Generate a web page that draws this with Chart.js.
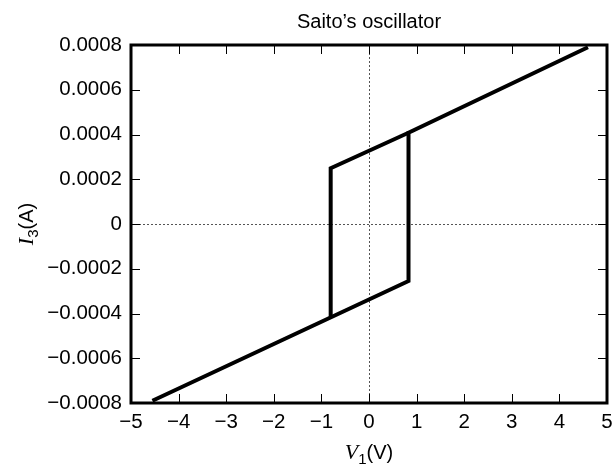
<!DOCTYPE html>
<html>
<head>
<meta charset="utf-8">
<script src="https://cdn.jsdelivr.net/npm/chart.js@4/dist/chart.umd.min.js"></script>
<style>
  html, body { margin: 0; padding: 0; background: #fff; overflow: hidden; }
  #wrap { width: 613px; height: 465px; }
</style>
</head>
<body>
<div id="wrap"><canvas id="chSaito"></canvas></div>
<script>
// outer branch of the I-V characteristic (lower line, jump, upper line)
var outerV = [-4.55, 0.83, 0.83, 4.6];
var outerI = [-0.00079, -0.000255, 0.000408, 0.00079];
// left jump and the short upper piece of the loop
var innerV = [-0.805, -0.805, 0.83];
var innerI = [-0.000414, 0.000249, 0.000408];

var xTicks = [-5, -4, -3, -2, -1, 0, 1, 2, 3, 4, 5];
var yTicks = [-0.0008, -0.0006, -0.0004, -0.0002, 0, 0.0002, 0.0004, 0.0006, 0.0008];

var sans = '"Liberation Sans", Arial, Helvetica, sans-serif';
var serif = '"Liberation Serif", "Times New Roman", serif';

function toPoints(xs, ys) {
  return xs.map(function (x, i) { return { x: x, y: ys[i] } });
}

function fmt(v, digits) {
  if (Math.abs(v) < 1e-12) return '0';
  var s = Math.abs(v).toFixed(digits);
  return (v < 0 ? '\u2212' : '') + s;
}

// draws a list of runs [text, font, dy] centred on (cx, cy)
function drawRuns(ctx, runs, cx, cy) {
  var total = 0;
  runs.forEach(function (r) { ctx.font = r[1]; total += ctx.measureText(r[0]).width });
  var x = cx - total / 2;
  ctx.textBaseline = 'alphabetic';
  ctx.textAlign = 'left';
  runs.forEach(function (r) {
    ctx.font = r[1];
    ctx.fillText(r[0], x, cy + (r[2] || 0));
    x += ctx.measureText(r[0]).width;
  });
}

// frame, inward ticks, dotted zero lines and titles
var framePlugin = {
  id: 'frame',
  beforeDatasetsDraw: function (chart) {
    var ctx = chart.ctx, a = chart.chartArea;
    var xs = chart.scales.x, ys = chart.scales.y;
    ctx.save();
    ctx.strokeStyle = '#555';
    ctx.lineWidth = 1;
    ctx.setLineDash([2, 2]);
    var x0 = Math.round(xs.getPixelForValue(0)) + 0.5;
    var y0 = Math.round(ys.getPixelForValue(0)) + 0.5;
    ctx.beginPath();
    ctx.moveTo(x0, a.top); ctx.lineTo(x0, a.bottom);
    ctx.moveTo(a.left, y0); ctx.lineTo(a.right, y0);
    ctx.stroke();
    ctx.restore();
  },
  afterDraw: function (chart) {
    var ctx = chart.ctx, a = chart.chartArea;
    var xs = chart.scales.x, ys = chart.scales.y;
    var tl = 9;
    ctx.save();
    ctx.strokeStyle = '#000';
    ctx.lineWidth = 1;
    ctx.beginPath();
    xTicks.forEach(function (v) {
      var px = Math.round(xs.getPixelForValue(v)) + 0.5;
      ctx.moveTo(px, a.bottom); ctx.lineTo(px, a.bottom - tl);
      ctx.moveTo(px, a.top); ctx.lineTo(px, a.top + tl);
    });
    yTicks.forEach(function (v) {
      var py = Math.round(ys.getPixelForValue(v)) + 0.5;
      ctx.moveTo(a.left, py); ctx.lineTo(a.left + tl, py);
      ctx.moveTo(a.right, py); ctx.lineTo(a.right - tl, py);
    });
    ctx.stroke();

    ctx.lineWidth = 3;
    ctx.strokeRect(a.left, a.top, a.right - a.left, a.bottom - a.top);

    ctx.fillStyle = '#000';
    var cx = (a.left + a.right) / 2;
    drawRuns(ctx, [['Saito\u2019s oscillator', '20px ' + sans]], cx, 28);

    drawRuns(ctx, [
      ['V', 'italic 22px ' + serif],
      ['1', '15px ' + sans, 5],
      ['(V)', '20px ' + sans]
    ], cx, 459);

    ctx.translate(33, (a.top + a.bottom) / 2);
    ctx.rotate(-Math.PI / 2);
    drawRuns(ctx, [
      ['I', 'italic 22px ' + serif],
      ['3', '15px ' + sans, 5],
      ['(A)', '20px ' + sans]
    ], 0, 0);
    ctx.restore();
  }
};

var lineStyle = {
  showLine: true,
  borderColor: '#000',
  backgroundColor: '#000',
  borderWidth: 4,
  pointRadius: 0,
  fill: false,
  tension: 0
};

new Chart(document.getElementById('chSaito'), {
  type: 'scatter',
  data: {
    datasets: [
      Object.assign({ data: toPoints(outerV, outerI) }, lineStyle),
      Object.assign({ data: toPoints(innerV, innerI) }, lineStyle)
    ]
  },
  options: {
    responsive: true,
    maintainAspectRatio: false,
    animation: false,
    layout: { padding: { top: 45, right: 6, left: 0, bottom: 0 } },
    plugins: {
      legend: { display: false },
      tooltip: { enabled: false },
      title: { display: false }
    },
    scales: {
      x: {
        type: 'linear',
        min: -5, max: 5,
        afterFit: function (s) {
          s.height = 62;
          s.paddingLeft = 0;
          s.paddingRight = 0;
        },
        afterBuildTicks: function (s) { s.ticks = xTicks.map(function (v) { return { value: v } }) },
        grid: { display: false, drawTicks: false },
        border: { display: false },
        ticks: {
          color: '#000',
          padding: 7,
          maxRotation: 0,
          font: { family: sans, size: 20.5 },
          callback: function (v) { return fmt(v, 0) }
        }
      },
      y: {
        type: 'linear',
        min: -0.0008, max: 0.0008,
        afterFit: function (s) {
          s.width = 131;
          s.paddingTop = 0;
          s.paddingBottom = 0;
        },
        afterBuildTicks: function (s) { s.ticks = yTicks.map(function (v) { return { value: v } }) },
        grid: { display: false, drawTicks: false },
        border: { display: false },
        ticks: {
          color: '#000',
          padding: 9,
          font: { family: sans, size: 20.5 },
          callback: function (v) { return fmt(v, 4) }
        }
      }
    }
  },
  plugins: [framePlugin]
});
</script>
</body>
</html>
